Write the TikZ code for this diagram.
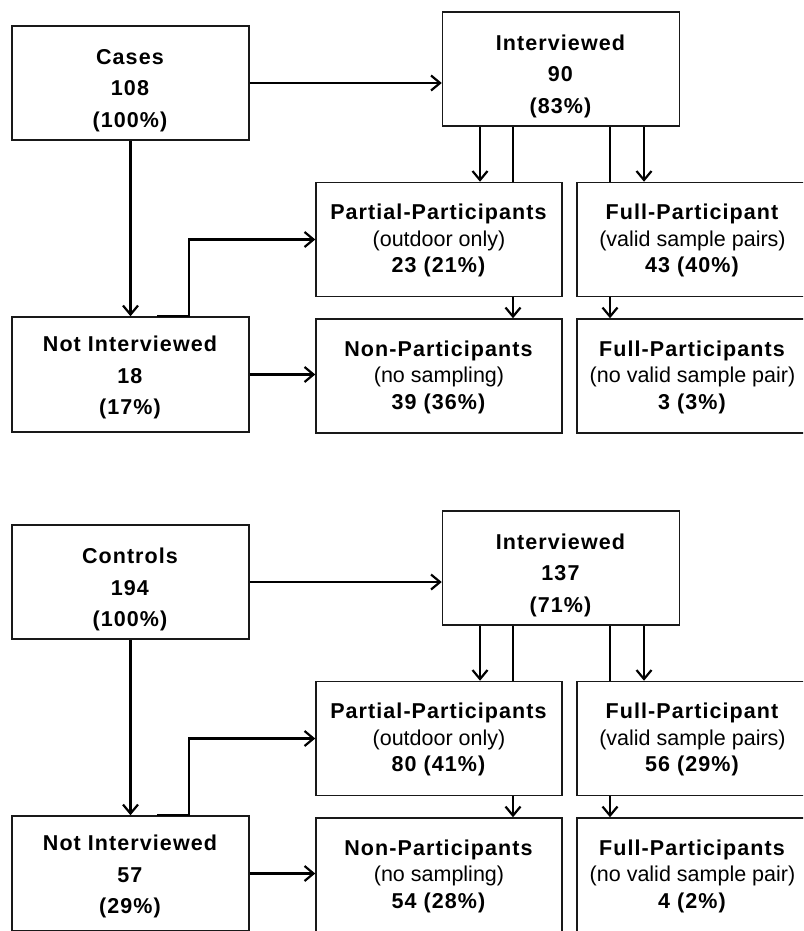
\documentclass[tikz,border=0pt]{standalone}
\usepackage{fontspec}
\setmainfont{Liberation Sans}[BoldFeatures={LetterSpace=5}]
\usetikzlibrary{arrows.meta}
\begin{document}
\begin{tikzpicture}[x=1pt,y=-1pt,
  box/.style={draw=black!90,line width=1.5pt,fill=white,inner sep=0pt,minimum height=114pt},
  wbox/.style={box,minimum width=237pt},
  pbox/.style={box,minimum width=246pt},
  fbox/.style={box,minimum width=231pt},
  lblA/.style={align=center,inner sep=0pt,font=\fontsize{21.5}{31.5}\selectfont},
  lblB/.style={align=center,inner sep=0pt,font=\fontsize{21.5}{26.5}\selectfont},
  conn/.style={line width=2.3pt,black},
  arr/.style={conn,-{Straight Barb[length=9pt,width=15pt,line width=2.2pt]}}]
\useasboundingbox (0,0) rectangle (803,931);
\clip (0,0) rectangle (803,931);
\coordinate (x157) at (157,0);
\coordinate (x189) at (189,0);
\coordinate (x480) at (480,0);
\coordinate (x513) at (513,0);
\coordinate (x610) at (610,0);
\coordinate (x644) at (644,0);
% ---------- top panel ----------
\node[wbox] (cases) at (130.5,83) {};
\node[wbox] (int) at (561,69) {};
\node[pbox] (part) at (439,239.5) {};
\node[fbox] (full) at (692.5,239.5) {};
\node[wbox,minimum height=115pt] (notint) at (130.5,374.5) {};
\node[pbox] (non) at (439,376) {};
\node[fbox] (fullno) at (692.5,376) {};
\node[lblA] (casesT) at ([yshift=-7.5pt]cases.center) {\textbf{Cases}\\\textbf{108}\\\textbf{(100\%)}};
\node[lblA] (intT) at ([yshift=-7pt]int.center) {\textbf{Interviewed}\\\textbf{90}\\\textbf{(83\%)}};
\node[lblB] (partT) at ([yshift=-1pt]part.center) {\textbf{Partial-Participants}\\(outdoor only)\\\textbf{23 (21\%)}};
\node[lblB] (fullT) at ([yshift=-1pt]full.center) {\textbf{Full-Participant}\\(valid sample pairs)\\\textbf{43 (40\%)}};
\node[lblA] (notintT) at ([yshift=-3pt]notint.center) {\textbf{Not Interviewed}\\\textbf{18}\\\textbf{(17\%)}};
\node[lblB] (nonT) at ([yshift=-1pt]non.center) {\textbf{Non-Participants}\\(no sampling)\\\textbf{39 (36\%)}};
\node[lblB] (fullnoT) at ([yshift=-1pt]fullno.center) {\textbf{Full-Participants}\\(no valid sample pair)\\\textbf{3 (3\%)}};
\draw[arr] (cases.east) -- (cases.east -| int.west);
\draw[arr] (cases.south) -- (notint.north);
\draw[arr] (x480 |- int.south) -- (x480 |- part.north);
\draw[conn] (x513 |- int.south) -- (x513 |- part.north);
\draw[arr] (x513 |- part.south) -- (x513 |- non.north);
\draw[conn] (x610 |- int.south) -- (x610 |- full.north);
\draw[arr] (x610 |- full.south) -- (x610 |- fullno.north);
\draw[arr] (x644 |- int.south) -- (x644 |- full.north);
\coordinate (a1) at (x157 |- notint.north);
\draw[arr] (a1) -| (x189 |- part.west) -- (part.west);
\draw[arr] (notint.east) -- (notint.east -| non.west);
% ---------- bottom panel ----------
\node[wbox] (ctrl) at (130.5,582) {};
\node[wbox] (int2) at (561,568) {};
\node[pbox] (part2) at (439,738.5) {};
\node[fbox] (full2) at (692.5,738.5) {};
\node[wbox,minimum height=115pt] (notint2) at (130.5,873.5) {};
\node[pbox] (non2) at (439,875) {};
\node[fbox] (fullno2) at (692.5,875) {};
\node[lblA] (ctrlT) at ([yshift=-7.5pt]ctrl.center) {\textbf{Controls}\\\textbf{194}\\\textbf{(100\%)}};
\node[lblA] (int2T) at ([yshift=-7pt]int2.center) {\textbf{Interviewed}\\\textbf{137}\\\textbf{(71\%)}};
\node[lblB] (part2T) at ([yshift=-1pt]part2.center) {\textbf{Partial-Participants}\\(outdoor only)\\\textbf{80 (41\%)}};
\node[lblB] (full2T) at ([yshift=-1pt]full2.center) {\textbf{Full-Participant}\\(valid sample pairs)\\\textbf{56 (29\%)}};
\node[lblA] (notint2T) at ([yshift=-3pt]notint2.center) {\textbf{Not Interviewed}\\\textbf{57}\\\textbf{(29\%)}};
\node[lblB] (non2T) at ([yshift=-1pt]non2.center) {\textbf{Non-Participants}\\(no sampling)\\\textbf{54 (28\%)}};
\node[lblB] (fullno2T) at ([yshift=-1pt]fullno2.center) {\textbf{Full-Participants}\\(no valid sample pair)\\\textbf{4 (2\%)}};
\draw[arr] (ctrl.east) -- (ctrl.east -| int2.west);
\draw[arr] (ctrl.south) -- (notint2.north);
\draw[arr] (x480 |- int2.south) -- (x480 |- part2.north);
\draw[conn] (x513 |- int2.south) -- (x513 |- part2.north);
\draw[arr] (x513 |- part2.south) -- (x513 |- non2.north);
\draw[conn] (x610 |- int2.south) -- (x610 |- full2.north);
\draw[arr] (x610 |- full2.south) -- (x610 |- fullno2.north);
\draw[arr] (x644 |- int2.south) -- (x644 |- full2.north);
\coordinate (b1) at (x157 |- notint2.north);
\draw[arr] (b1) -| (x189 |- part2.west) -- (part2.west);
\draw[arr] (notint2.east) -- (notint2.east -| non2.west);
\end{tikzpicture}
\end{document}
